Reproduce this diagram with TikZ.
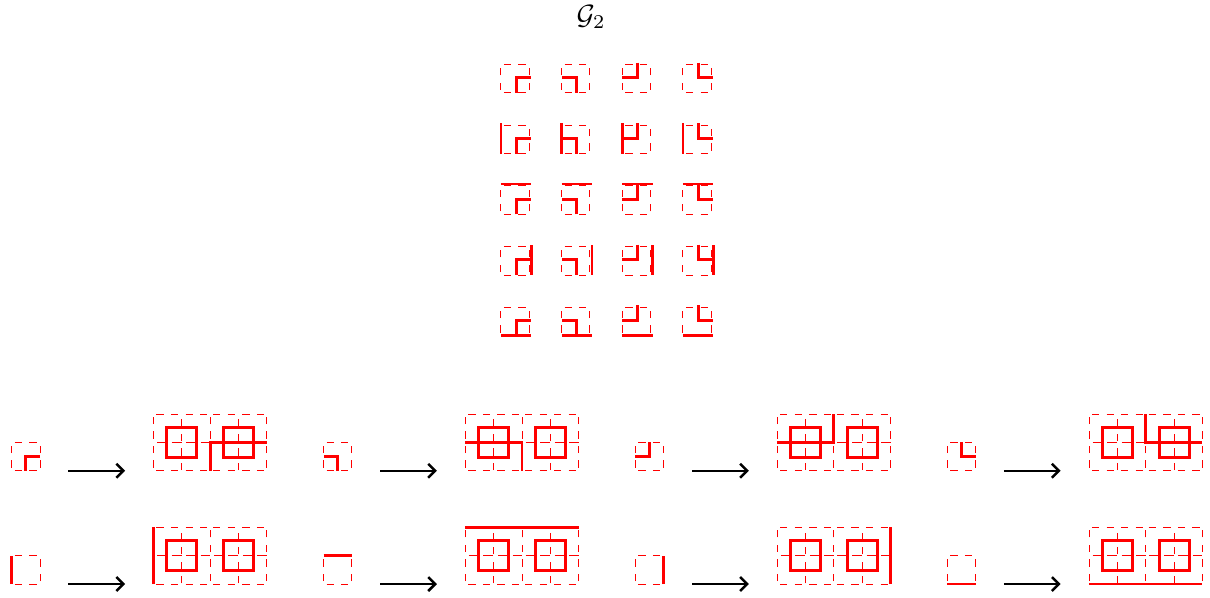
\documentclass[tikz,border=0pt]{standalone}
\usepackage{amsmath, amssymb}
\usetikzlibrary{arrows.meta}

\newcommand{\bentline}[4]{\draw[redline] (#1,#2) -- (.5,.5) -- (#3,#4);}
\newcommand{\edgeline}[4]{\draw[redline] (#1,#2) -- (#3,#4);}

\begin{document}
\begin{tikzpicture}
    [dashline/.style={red, line width=1pt, dash pattern=on 7.3pt off 7.3pt, dash phase=11.6pt},
    redline/.style={red, line width=2.9pt},
    boxline/.style={red, line width=3pt},
    maparrow/.style={-{Straight Barb[length=7pt,width=14pt]}, black, line width=2.5pt},
    smallbox/.pic={
        \draw[dashline] (0,0) -- (1,0);
        \draw[dashline] (0,1) -- (1,1);
        \draw[dashline] (0,0) -- (0,1);
        \draw[dashline] (1,0) -- (1,1);},
    bigbox/.pic={
        \foreach \s in {0,2} {
            \draw[dashline] (\s,0) -- (\s+2,0);
            \draw[dashline] (\s,2) -- (\s+2,2);
            \draw[dashline, dash pattern=on 10pt off 4.6pt, dash phase=11pt] (\s,1) -- (\s+2,1);
            \draw[dashline] (\s,0) -- (\s,2);
            \draw[dashline] (\s+2,0) -- (\s+2,2);
            \draw[dashline, dash phase=14pt] (\s+1,0) -- (\s+1,2);
            \draw[boxline] (\s+.47,.47) rectangle (\s+1.53,1.53);
        }}]
    \useasboundingbox (0,0) rectangle (42.68,21.06);

    \node[scale=2.8, inner sep=0pt] (title) at (20.85,20.45) {$\mathcal{G}_2$};

    % table of tiles
    \begin{scope}[shift={(17.67,9.22)}, scale=1.07]
    \foreach \ax/\ay/\bx/\by [count=\c from 0] in {.5/0/1/.5, .5/0/0/.5, .5/1/0/.5, .5/1/1/.5} {
        \foreach \ex/\ey/\fx/\fy [count=\r from 0] in {0/0/1/0, 1/0/1/1, 0/1/1/1, 0/0/0/1} {
            \begin{scope}[shift={(\c*2,\r*2)}]
                \pic {smallbox};
                \bentline{\ax}{\ay}{\bx}{\by}
                \edgeline{\ex}{\ey}{\fx}{\fy}
            \end{scope}
        }
        \begin{scope}[shift={(\c*2,8)}]
            \pic {smallbox};
            \bentline{\ax}{\ay}{\bx}{\by}
        \end{scope}
    }
    \end{scope}

    % maps, upper row
    \foreach \ax/\ay/\bx/\by [count=\c from 0] in {.5/0/1/.5, .5/0/0/.5, .5/1/0/.5, .5/1/1/.5} {
        \begin{scope}[shift={(.413+\c*11,4.455)}]
            \pic {smallbox};
            \bentline{\ax}{\ay}{\bx}{\by}
            \coordinate (from\c) at (2,0);
            \coordinate (to\c) at (4,0);
            \draw[maparrow] (from\c) -- (to\c);
            \begin{scope}[shift={(5,0)}]
                \pic {bigbox};
                \begin{scope}[xscale=4, yscale=2]
                    \bentline{\ax}{\ay}{\bx}{\by}
                \end{scope}
            \end{scope}
        \end{scope}
    }

    % maps, lower row
    \foreach \ex/\ey/\fx/\fy [count=\c from 0] in {0/0/0/1, 0/1/1/1, 1/0/1/1, 0/0/1/0} {
        \begin{scope}[shift={(.413+\c*11,.459)}]
            \pic {smallbox};
            \edgeline{\ex}{\ey}{\fx}{\fy}
            \coordinate (start\c) at (2,0);
            \coordinate (end\c) at (4,0);
            \draw[maparrow] (start\c) -- (end\c);
            \begin{scope}[shift={(5,0)}]
                \pic {bigbox};
                \begin{scope}[xscale=4, yscale=2]
                    \edgeline{\ex}{\ey}{\fx}{\fy}
                \end{scope}
            \end{scope}
        \end{scope}
    }
\end{tikzpicture}
\end{document}
